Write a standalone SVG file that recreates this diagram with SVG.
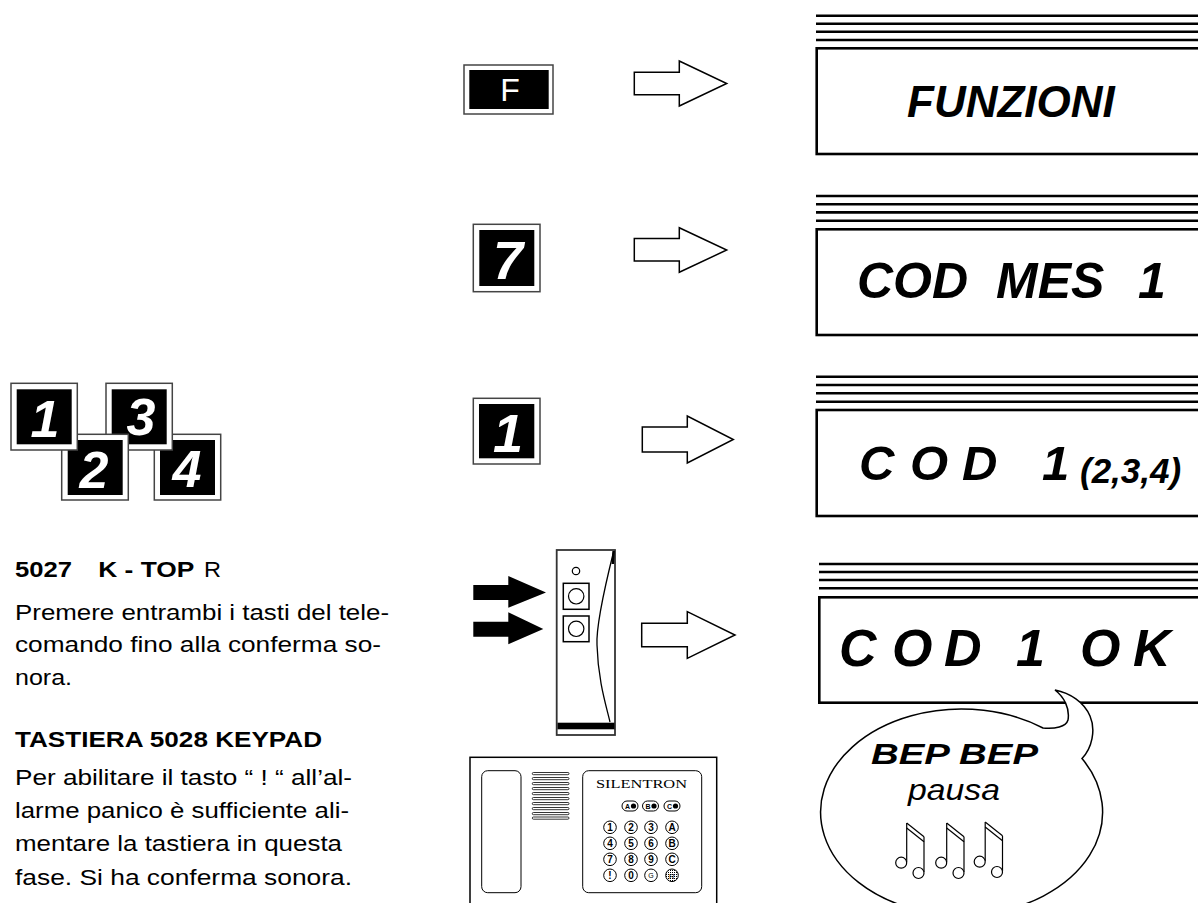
<svg xmlns="http://www.w3.org/2000/svg" width="1198" height="903" viewBox="0 0 1198 903">
<defs>
<style>
.frame{fill:#fff;stroke:#444;stroke-width:1.5}
.face{fill:#000}
.keych{font-family:"Liberation Sans",Arial,sans-serif;font-weight:bold;font-style:italic;fill:#fff;text-anchor:middle}
.arrow{fill:#fff;stroke:#000;stroke-width:1.5}
.solid{fill:#000;stroke:none}
.band{stroke:#000;stroke-width:2.6}
.screen{fill:#fff;stroke:#000;stroke-width:2.6}
.lcd{font-family:"Liberation Sans",Arial,sans-serif;font-weight:bold;font-style:italic;fill:#000}
.body{font-family:"Liberation Sans",Arial,sans-serif;font-size:22px;fill:#000}
.b{font-weight:bold}
.thin{fill:#fff;stroke:#000;stroke-width:1.2}
.pk{fill:#fff;stroke:#000;stroke-width:1}
.pkt{font-family:"Liberation Sans",Arial,sans-serif;font-weight:bold;font-size:10px;text-anchor:middle;fill:#000}
</style>
<pattern id="stipple" width="2" height="2" patternUnits="userSpaceOnUse">
<rect width="2" height="2" fill="#fff"/><rect width="1" height="1" fill="#000"/>
</pattern>
<g id="note" class="thin">
<line x1="6.7" y1="0" x2="6.7" y2="39"/>
<line x1="6.7" y1="0" x2="24" y2="13.7"/>
<line x1="6.7" y1="5" x2="24" y2="18.7"/>
<line x1="24" y1="13.7" x2="24" y2="49"/>
<circle cx="1.2" cy="39.7" r="5.5"/>
<circle cx="18.5" cy="50" r="5.5"/>
</g>
</defs>
<rect width="1198" height="903" fill="#fff"/>

<!-- key cluster 1 2 3 4 -->
<g id="keys-1234">
<g id="key4"><rect class="frame" x="154.3" y="434.3" width="66.4" height="65.7"/><rect class="face" x="160" y="440" width="55" height="55"/><text class="keych" x="187" y="486.7" font-size="52">4</text></g>
<g id="key3"><rect class="frame" x="106" y="383.3" width="66.3" height="66.7"/><rect class="face" x="111.7" y="389.3" width="55" height="55"/><text class="keych" x="141" y="435" font-size="52">3</text></g>
<g id="key2"><rect class="frame" x="61.7" y="434.3" width="66.6" height="65.7"/><rect class="face" x="67.7" y="440" width="55" height="55"/><text class="keych" x="94" y="488.3" font-size="52">2</text></g>
<g id="key1"><rect class="frame" x="11" y="383.3" width="66.3" height="66.7"/><rect class="face" x="16.7" y="389.3" width="55" height="55"/><text class="keych" x="45" y="437" font-size="52">1</text></g>
</g>

<!-- single keys -->
<g id="key-f"><rect class="frame" x="464" y="65" width="89" height="49"/><rect class="face" x="469.3" y="70" width="79.4" height="39"/><text x="510" y="100.7" font-family="Liberation Sans, Arial, sans-serif" font-size="32" fill="#fff" text-anchor="middle">F</text></g>
<g id="key-7"><rect class="frame" x="473.3" y="224.3" width="66.7" height="67.4"/><rect class="face" x="479.3" y="230" width="55" height="56"/><text class="keych" x="508" y="279.3" font-size="54">7</text></g>
<g id="key-1"><rect class="frame" x="473.3" y="398.3" width="66.7" height="65.7"/><rect class="face" x="479" y="404" width="55.3" height="54.3"/><text class="keych" x="508" y="451.7" font-size="54">1</text></g>

<!-- remote control -->
<g id="remote">
<rect x="556.7" y="550" width="58.3" height="185" fill="#fff" stroke="#333" stroke-width="1.8"/>
<circle cx="576" cy="571" r="3.7" fill="none" stroke="#000" stroke-width="1.2"/>
<rect x="563.3" y="583.3" width="25.7" height="26" fill="none" stroke="#000" stroke-width="1.5"/>
<circle cx="576.2" cy="596.3" r="7.7" fill="none" stroke="#000" stroke-width="1.2"/>
<rect x="563.3" y="616" width="25.7" height="25.7" fill="none" stroke="#000" stroke-width="1.5"/>
<circle cx="576.2" cy="628.8" r="7.7" fill="none" stroke="#000" stroke-width="1.2"/>
<path d="M613.5,552 C604,590 596,625 597,645 C598,680 606,705 610,722" fill="none" stroke="#000" stroke-width="1.3"/>
<line x1="613.6" y1="551" x2="612.8" y2="564" stroke="#000" stroke-width="2.5"/>
<rect x="557.5" y="722.7" width="57" height="6.6" fill="#000"/>
</g>

<!-- keypad -->
<g id="keypad">
<rect x="470" y="757.3" width="246.7" height="160" fill="#fff" stroke="#000" stroke-width="1.5"/>
<rect x="481.7" y="770.7" width="39.3" height="122" rx="6" fill="none" stroke="#000" stroke-width="1"/>
<g fill="#fff" stroke="#000" stroke-width="0.8">
<rect x="532.3" y="772.5" width="36.7" height="2.2" rx="1.1"/>
<rect x="532.3" y="777.5" width="36.7" height="2.2" rx="1.1"/>
<rect x="532.3" y="782.5" width="36.7" height="2.2" rx="1.1"/>
<rect x="532.3" y="787.5" width="36.7" height="2.2" rx="1.1"/>
<rect x="532.3" y="792.5" width="36.7" height="2.2" rx="1.1"/>
<rect x="532.3" y="797.5" width="36.7" height="2.2" rx="1.1"/>
<rect x="532.3" y="802.5" width="36.7" height="2.2" rx="1.1"/>
<rect x="532.3" y="807.5" width="36.7" height="2.2" rx="1.1"/>
<rect x="532.3" y="812.5" width="36.7" height="2.2" rx="1.1"/>
<rect x="532.3" y="817" width="36.7" height="2.2" rx="1.1"/>
</g>
<rect x="582.7" y="770.7" width="119" height="122" rx="6" fill="none" stroke="#000" stroke-width="1"/>
<text x="596" y="788.3" font-family="Liberation Serif, Times New Roman, serif" font-size="12.5" textLength="91" lengthAdjust="spacingAndGlyphs">SILENTRON</text>
<g class="pk">
<rect x="622" y="801" width="16" height="10" rx="5"/>
<rect x="642.5" y="801" width="16" height="10" rx="5"/>
<rect x="664" y="801" width="16" height="10" rx="5"/>
</g>
<g fill="#000"><circle cx="633.5" cy="806" r="2.6"/><circle cx="654" cy="806" r="2.6"/><circle cx="675.5" cy="806" r="2.6"/></g>
<g class="pkt" font-size="7">
<text x="627.5" y="808.5" font-size="7">A</text><text x="648" y="808.5" font-size="7">B</text><text x="669.5" y="808.5" font-size="7">C</text>
</g>
<g class="pk">
<circle cx="610" cy="827.3" r="6.3"/><circle cx="631" cy="827.3" r="6.3"/><circle cx="651" cy="827.3" r="6.3"/><circle cx="672" cy="827.3" r="6.3"/>
<circle cx="610" cy="843.3" r="6.3"/><circle cx="631" cy="843.3" r="6.3"/><circle cx="651" cy="843.3" r="6.3"/><circle cx="672" cy="843.3" r="6.3"/>
<circle cx="610" cy="859.3" r="6.3"/><circle cx="631" cy="859.3" r="6.3"/><circle cx="651" cy="859.3" r="6.3"/><circle cx="672" cy="859.3" r="6.3"/>
<circle cx="610" cy="875.3" r="6.3"/><circle cx="631" cy="875.3" r="6.3"/><circle cx="651" cy="875.3" r="6.3"/><circle cx="672" cy="875.3" r="6.3" fill="url(#stipple)"/>
</g>
<g class="pkt">
<text x="610" y="831">1</text><text x="631" y="831">2</text><text x="651" y="831">3</text><text x="672" y="831">A</text>
<text x="610" y="847">4</text><text x="631" y="847">5</text><text x="651" y="847">6</text><text x="672" y="847">B</text>
<text x="610" y="863">7</text><text x="631" y="863">8</text><text x="651" y="863">9</text><text x="672" y="863">C</text>
<text x="610" y="879">!</text><text x="631" y="879">0</text><text x="651" y="878.3" font-size="7" font-weight="normal">G</text><text x="672" y="878.5" font-size="8" font-weight="normal">R</text>
</g>
</g>

<!-- displays -->
<g id="display-1">
<g class="band"><line x1="816" y1="15.7" x2="1198" y2="15.7"/><line x1="816" y1="23.7" x2="1198" y2="23.7"/><line x1="816" y1="31.7" x2="1198" y2="31.7"/><line x1="816" y1="40" x2="1198" y2="40"/></g>
<rect class="screen" x="816.7" y="48.3" width="400" height="105.7"/>
<text class="lcd" x="907" y="116.7" font-size="44">FUNZIONI</text>
</g>
<g id="display-2">
<g class="band"><line x1="816" y1="196" x2="1198" y2="196"/><line x1="816" y1="204.2" x2="1198" y2="204.2"/><line x1="816" y1="212.4" x2="1198" y2="212.4"/><line x1="816" y1="220.7" x2="1198" y2="220.7"/></g>
<rect class="screen" x="816.7" y="229.3" width="400" height="105.7"/>
<text class="lcd" y="298.3" font-size="50"><tspan x="857">COD</tspan><tspan x="996">MES</tspan><tspan x="1138">1</tspan></text>
</g>
<g id="display-3">
<g class="band"><line x1="816" y1="376.7" x2="1198" y2="376.7"/><line x1="816" y1="385" x2="1198" y2="385"/><line x1="816" y1="393.3" x2="1198" y2="393.3"/><line x1="816" y1="401.7" x2="1198" y2="401.7"/></g>
<rect class="screen" x="816.7" y="410" width="400" height="106"/>
<text class="lcd" y="480" font-size="49"><tspan x="859">C</tspan><tspan x="910">O</tspan><tspan x="962">D</tspan><tspan x="1042">1</tspan><tspan x="1080" y="483" font-size="35">(2,3,4)</tspan></text>
</g>
<g id="display-4">
<g class="band"><line x1="819" y1="564" x2="1198" y2="564"/><line x1="819" y1="572" x2="1198" y2="572"/><line x1="819" y1="580" x2="1198" y2="580"/><line x1="819" y1="588.3" x2="1198" y2="588.3"/></g>
<rect class="screen" x="819.3" y="597.3" width="400" height="105.4"/>
<text class="lcd" y="666" font-size="52"><tspan x="839">C</tspan><tspan x="892">O</tspan><tspan x="944">D</tspan><tspan x="1016">1</tspan><tspan x="1080">O</tspan><tspan x="1133">K</tspan></text>
</g>

<!-- speech bubble -->
<g id="bubble">
<path d="M1055,690 C1064,697 1070,708 1068,720 C1066,727 1055,729 1043,728 A141,103 0 1 0 1082,758.5 C1092,748 1096,730 1090,716 C1084,702 1070,693 1055,690 Z" fill="#fff" stroke="#000" stroke-width="1.5"/>
<text class="lcd" x="871" y="764" font-size="29" textLength="167" lengthAdjust="spacingAndGlyphs">BEP BEP</text>
<text x="908" y="800" font-family="Liberation Sans, Arial, sans-serif" font-style="italic" font-size="29" textLength="92" lengthAdjust="spacingAndGlyphs">pausa</text>
<use href="#note" transform="translate(900,823)"/>
<use href="#note" transform="translate(940,823)"/>
<use href="#note" transform="translate(978.5,822)"/>
</g>

<!-- connectors -->
<g id="connectors">
<polygon class="arrow" points="634.3,72.3 679.3,72.3 679.3,61 726.7,83.5 679.3,106 679.3,94.7 634.3,94.7"/>
<polygon class="arrow" points="634.3,238.5 679.3,238.5 679.3,227.7 726.7,250 679.3,272.3 679.3,261 634.3,261"/>
<polygon class="arrow" points="642.3,427 687.3,427 687.3,416 733.3,439.5 687.3,463 687.3,452 642.3,452"/>
<polygon class="arrow" points="641.7,623.3 687.3,623.3 687.3,611.7 735,635 687.3,658.3 687.3,646.7 641.7,646.7"/>
<polygon class="solid" points="473.3,585 508.3,585 508.3,576 546,592.5 508.3,607.7 508.3,600 473.3,600"/>
<polygon class="solid" points="473.3,621.7 508.3,621.7 508.3,612.3 543.3,629 508.3,644.3 508.3,636.7 473.3,636.7"/>
</g>

<!-- description text -->
<g id="notes-text">
<text class="body b" x="15" y="577" textLength="57" lengthAdjust="spacingAndGlyphs">5027</text>
<text class="body b" x="98.3" y="577" textLength="96" lengthAdjust="spacingAndGlyphs">K - TOP</text>
<text class="body" x="204" y="577" textLength="17" lengthAdjust="spacingAndGlyphs">R</text>
<text class="body" x="15" y="619.5" textLength="374" lengthAdjust="spacingAndGlyphs">Premere entrambi i tasti del tele-</text>
<text class="body" x="15" y="652" textLength="366" lengthAdjust="spacingAndGlyphs">comando fino alla conferma so-</text>
<text class="body" x="15" y="684.5" textLength="57" lengthAdjust="spacingAndGlyphs">nora.</text>
<text class="body b" x="15" y="746.7" textLength="307" lengthAdjust="spacingAndGlyphs">TASTIERA 5028 KEYPAD</text>
<text class="body" x="15" y="785" textLength="337" lengthAdjust="spacingAndGlyphs">Per abilitare il tasto “ ! “ all’al-</text>
<text class="body" x="15" y="818" textLength="334" lengthAdjust="spacingAndGlyphs">larme panico è sufficiente ali-</text>
<text class="body" x="15" y="851" textLength="327" lengthAdjust="spacingAndGlyphs">mentare la tastiera in questa</text>
<text class="body" x="15" y="884.5" textLength="337" lengthAdjust="spacingAndGlyphs">fase. Si ha conferma sonora.</text>
</g>
</svg>
